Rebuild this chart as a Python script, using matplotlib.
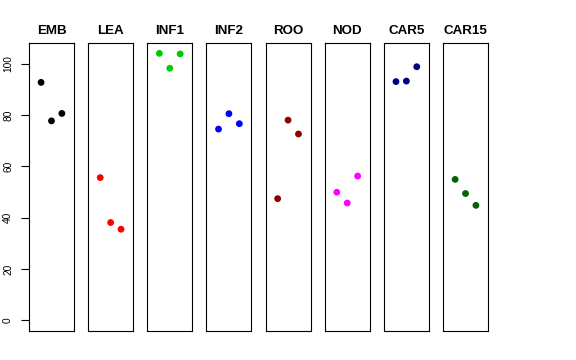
import matplotlib
matplotlib.use("Agg")
import matplotlib.pyplot as plt

plt.rcParams['font.family'] = ['Liberation Sans', 'DejaVu Sans']

tissues = ["EMB", "LEA", "INF1", "INF2", "ROO", "NOD", "CAR5", "CAR15"]
colors = ["black", "red", "#00CD00", "blue", "#8B0000", "magenta", "#000080", "#006400"]
emb = [92.7, 77.7, 80.6]
lea = [55.6, 38.1, 35.5]
inf1 = [104.0, 98.2, 103.8]
inf2 = [74.5, 80.5, 76.6]
roo = [47.4, 78.0, 72.6]
nod = [49.9, 45.7, 56.2]
car5 = [93.0, 93.2, 98.8]
car15 = [54.9, 49.4, 44.8]
series = [emb, lea, inf1, inf2, roo, nod, car5, car15]
reps = [1, 2, 3]
yticks = [0, 20, 40, 60, 80, 100]

ymax = max(max(s) for s in series)
ylo, yhi = 0 - 0.04 * ymax, ymax * 1.04
xlo, xhi = -0.16, 4.16

fig, axes = plt.subplots(1, 8, figsize=(5.76, 3.6), dpi=100)
fig.subplots_adjust(left=29/576, right=488/576, top=1-42.7/360, bottom=1-331/360, wspace=0.316)

for i, ax in enumerate(axes):
    ax.scatter(reps, series[i], s=24, color=colors[i], edgecolors='none', zorder=3)
    ax.set_xlim(xlo, xhi)
    ax.set_ylim(ylo, yhi)
    ax.set_xticks([])
    ax.set_title(tissues[i], fontsize=9.6, fontweight='bold', pad=6.3)
    for sp in ax.spines.values():
        sp.set_linewidth(0.8)
        sp.set_color('black')
    if i == 0:
        ax.set_yticks(yticks)
        ax.set_yticklabels([str(t) for t in yticks], rotation=90, va='center', fontsize=7.3)
        ax.tick_params(axis='y', length=5.5, width=0.8, pad=6)
    else:
        ax.set_yticks([])

fig.savefig("out.png", dpi=100)
